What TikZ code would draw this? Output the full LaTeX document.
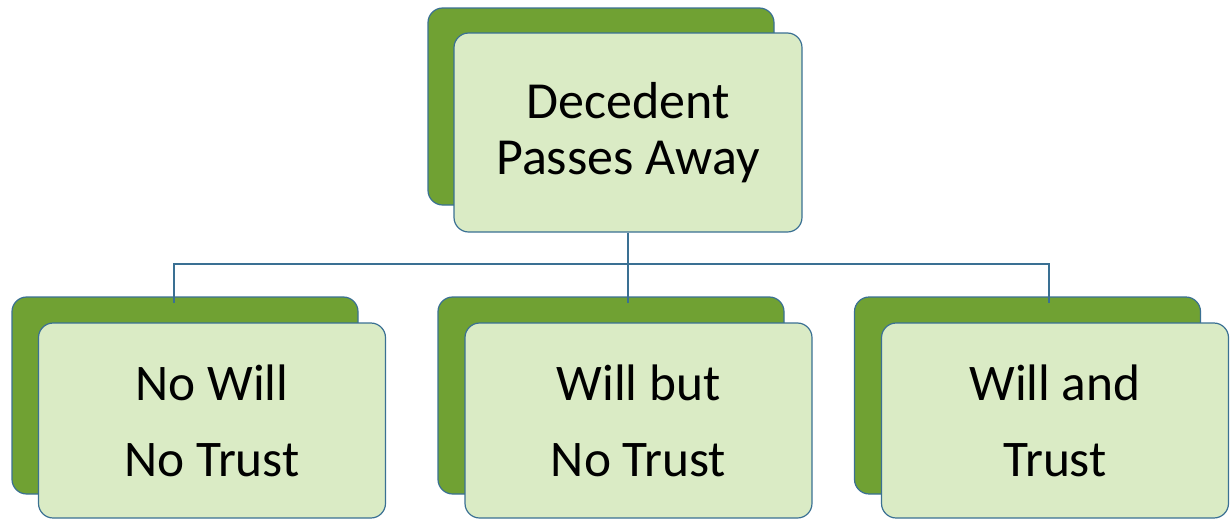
\documentclass[tikz,border=0pt]{standalone}
\usepackage{fontspec}
\setmainfont{Carlito}
\definecolor{backgreen}{HTML}{70A133}
\definecolor{frontgreen}{HTML}{DAEBC5}
\definecolor{edgeblue}{HTML}{3A7093}
\begin{document}
\begin{tikzpicture}[x=0.75pt,y=-0.75pt,
  backbox/.style={draw=edgeblue,line width=0.9pt,fill=backgreen,rounded corners=11pt,inner sep=0pt,minimum width=259.5pt,minimum height=147.75pt},
  frontbox/.style={draw=edgeblue,line width=0.9pt,fill=frontgreen,rounded corners=11pt,inner sep=0pt,minimum width=260.25pt,align=center},
  topfont/.style={font=\fontsize{39}{41.5}\selectfont},
  lowfont/.style={font=\fontsize{38.5}{57}\selectfont},
  link/.style={draw=edgeblue,line width=1pt}]
\useasboundingbox (0,0) rectangle (1231,519);
% top
\node[backbox] (tb) at (601,106.5) {};
\node[frontbox,topfont,minimum width=261pt,minimum height=149.25pt] (tf) at (628,132.5) {Decedent\\Passes Away};
% bottom back boxes
\node[backbox] (lb) at (185,395.5) {};
\node[backbox] (mb) at (611,395.5) {};
\node[backbox] (rb) at (1027.5,395.5) {};
% connectors
\coordinate (split) at (628,264);
\coordinate (lend) at (174,303);
\coordinate (mend) at (628,303);
\coordinate (rend) at (1049,303);
\draw[link] (tf.south) -- (split);
\draw[link] (lend) |- (split) -| (rend);
\draw[link] (split) -- (mend);
% bottom front boxes
\node[frontbox,lowfont,minimum height=146.25pt] (lf) at (212,420.5) {No Will\\No Trust};
\node[frontbox,lowfont,minimum height=146.25pt] (mf) at (638.5,420.5) {Will but\\No Trust};
\node[frontbox,lowfont,minimum height=146.25pt] (rf) at (1055,420.5) {Will and\\Trust};
\end{tikzpicture}
\end{document}
